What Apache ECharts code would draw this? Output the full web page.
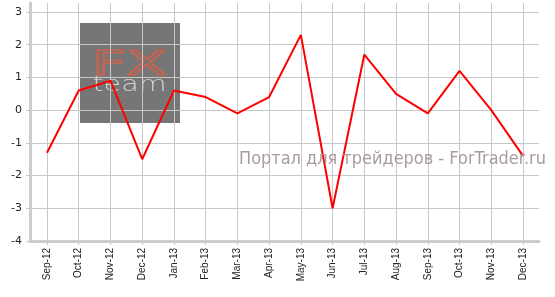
<!DOCTYPE html>
<html><head><meta charset="utf-8">
<script src="https://cdn.jsdelivr.net/npm/echarts@6/dist/echarts.min.js"></script>
<style>html,body{margin:0;padding:0;background:#fff}#c{width:555px;height:297px}</style>
</head><body><div id="c"></div>
<script>
const categories = ['Sep-12','Oct-12','Nov-12','Dec-12','Jan-13','Feb-13','Mar-13','Apr-13','May-13','Jun-13','Jul-13','Aug-13','Sep-13','Oct-13','Nov-13','Dec-13'];
const values = [-1.3, 0.6, 0.9, -1.5, 0.6, 0.4, -0.1, 0.4, 2.3, -3.0, 1.7, 0.5, -0.1, 1.2, 0.0, -1.4];
const yMin = -4, yMax = 3, yStep = 1;
const watermark = 'Портал для трейдеров - ForTrader.ru';

// layout (pixels)
const axisY = 241, topTick = 12, plotTop = 3;
const unitPx = (axisY - topTick) / (yMax - yMin);
const dataMax = yMax + (topTick - plotTop) / unitPx;

const chart = echarts.init(document.getElementById('c'), null, {renderer: 'canvas'});
const gridCol = '#c8c8c8';
chart.setOption({
  animation: false,
  grid: [
    {left: 30, right: 16, top: topTick, bottom: 297 - axisY},
    {left: 47, right: 32, top: plotTop, bottom: 297 - axisY}
  ],
  xAxis: [
    {gridIndex: 0, type: 'category', data: categories, boundaryGap: true,
     axisLine: {show: true, onZero: false, lineStyle: {color: '#cccccc', width: 3}},
     axisTick: {show: false}, axisLabel: {show: false}, splitLine: {show: false}},
    {gridIndex: 1, type: 'category', data: categories, boundaryGap: false,
     axisLine: {show: false, onZero: false},
     axisTick: {show: true, length: 4, alignWithLabel: true, lineStyle: {color: gridCol}},
     axisLabel: {show: true, rotate: 90, margin: 7, fontSize: 10, fontFamily: 'Liberation Sans, Arial, sans-serif', color: '#222', interval: 0, hideOverlap: false},
     splitLine: {show: true, lineStyle: {color: gridCol, width: 1}}}
  ],
  yAxis: [
    {gridIndex: 0, type: 'value', min: yMin, max: yMax, interval: yStep,
     axisLine: {show: false},
     axisTick: {show: true, length: 4, lineStyle: {color: gridCol}},
     axisLabel: {margin: 8, fontSize: 11, fontFamily: 'DejaVu Sans, Verdana, sans-serif', color: '#222'},
     splitLine: {show: true, lineStyle: {color: gridCol, width: 1}}},
    {gridIndex: 1, type: 'value', min: yMin, max: dataMax, offset: 17,
     axisLine: {show: true, onZero: false, lineStyle: {color: '#cccccc', width: 3}},
     axisTick: {show: false}, axisLabel: {show: false}, splitLine: {show: false}}
  ],
  graphic: [
    {type: 'rect', z: -5, shape: {x: 80, y: 23, width: 100, height: 100}, style: {fill: '#767676'}},
    {type: 'text', z: -4, x: 129.5, y: 66.5, scaleX: 1.8, style: {text: 'FX', font: '33px "DejaVu Sans"', align: 'center', verticalAlign: 'middle', fill: 'none', stroke: '#c8644e', lineWidth: 1.5}},
    {type: 'text', z: -4, x: 129.5, y: 85.5, scaleX: 1.3, style: {text: 'team', font: '200 22px "DejaVu Sans"', align: 'center', verticalAlign: 'middle', fill: '#d4d4d4'}},
    {type: 'text', z: 10, x: 239, y: 159.5, scaleX: 0.95, style: {text: watermark, font: '17px "DejaVu Sans"', verticalAlign: 'middle', fill: '#a89c9c'}}
  ],
  series: [
    {type: 'line', xAxisIndex: 1, yAxisIndex: 1, data: values, symbol: 'none',
     lineStyle: {color: '#ff0000', width: 2}}
  ]
});
</script>
</body></html>
